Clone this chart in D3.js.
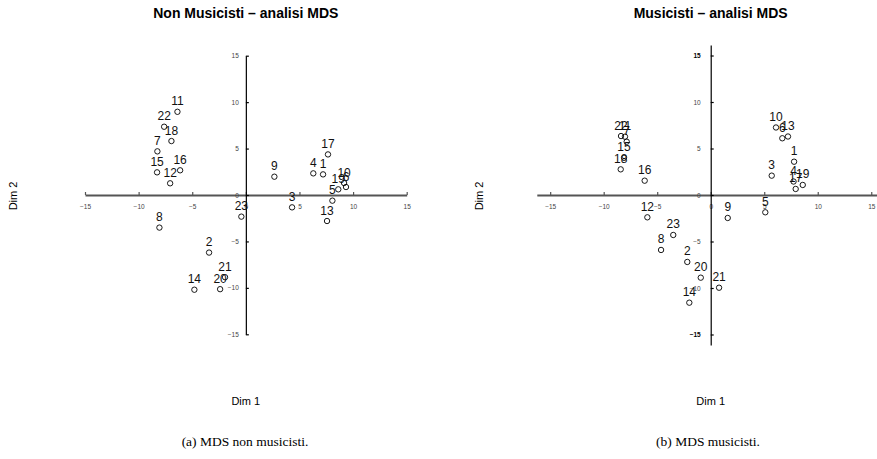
<!DOCTYPE html>
<html><head><meta charset="utf-8">
<script src="https://cdn.jsdelivr.net/npm/d3@7"></script>
<style>
body{margin:0;background:#fff;}
svg{display:block;font-family:"Liberation Sans",Arial,sans-serif;}
</style></head>
<body><svg id="c" width="877" height="459"></svg>
<script>
const ids = ["1","2","3","4","5","6","7","8","9","10","11","12","13","14","15","16","17","18","19","20","21","22","23"];
const nonMusDim1 = [7.2,-3.43,4.31,6.29,8.07,9.34,-8.25,-8.06,2.66,9.16,-6.38,-7.06,7.57,-4.8,-8.28,-6.13,7.66,-6.94,8.62,-2.4,-1.94,-7.62,-0.42];
const nonMusDim2 = [2.22,-6.2,-1.33,2.33,-0.61,0.86,4.70,-3.51,1.97,1.29,8.96,1.26,-2.8,-10.2,2.44,2.66,4.37,5.81,0.61,-10.14,-8.85,7.35,-2.33];
const musDim1 = [7.79,-2.19,5.7,7.74,5.1,6.69,-7.85,-4.64,1.59,6.1,-8.01,-5.92,7.22,-2.0,-8.1,-6.17,7.94,-8.41,8.6,-0.93,0.78,-8.38,-3.5];
const musDim2 = [3.58,-7.2,2.08,1.45,-1.86,6.1,5.73,-5.91,-2.47,7.26,6.27,-2.4,6.29,-11.58,4.0,1.54,0.65,2.76,1.08,-8.89,-9.97,6.34,-4.3];
const tickValues = [-15,-10,-5,0,5,10,15];
const titles = ["Non Musicisti \u2013 analisi MDS","Musicisti \u2013 analisi MDS"];
const captions = ["(a) MDS non musicisti.","(b) MDS musicisti."];
const xLabel = "Dim 1", yLabel = "Dim 2";

const svg = d3.select("#c");

const panels = [
  {d1: nonMusDim1, d2: nonMusDim2, xDom:[-15,15], xRange:[85,406.7], yDom:[-15,15], yRange:[334.3,55.7], cx:245.8, labPad:7, bold:false},
  {d1: musDim1, d2: musDim2, xDom:[-16.25,15.5], xRange:[536.8,876.6], yDom:[-16.13,16.13], yRange:[345,45], cx:710.7, labPad:10, bold:true}
];

const fmt = v => v < 0 ? "\u2212" + Math.abs(v) : String(v);

panels.forEach((p, i) => {
  const x = d3.scaleLinear().domain(p.xDom).range(p.xRange);
  const y = d3.scaleLinear().domain(p.yDom).range(p.yRange);
  const g = svg.append("g");

  const xa = g.append("g").attr("transform", `translate(0,${y(0)})`)
    .call(d3.axisBottom(x).tickValues(tickValues).tickSizeInner(-3).tickSizeOuter(0).tickPadding(9).tickFormat(fmt));
  xa.select(".domain").attr("stroke", "#555").attr("stroke-width", 1.8);
  xa.selectAll(".tick line").attr("stroke", "#555").attr("stroke-width", 1.2);
  xa.selectAll(".tick text").attr("font-size", 6.5).attr("fill", "#444").attr("font-family", "Liberation Sans, Arial, sans-serif");

  const ya = g.append("g").attr("transform", `translate(${x(0)},0)`)
    .call(d3.axisLeft(y).tickValues(tickValues).tickSizeInner(-3).tickSizeOuter(0).tickPadding(p.labPad).tickFormat(fmt));
  ya.select(".domain").attr("stroke", "#000").attr("stroke-width", 1.2);
  ya.selectAll(".tick line").attr("stroke", "#000").attr("stroke-width", 1.2);
  ya.selectAll(".tick text").attr("font-size", 6.5).attr("font-family", "Liberation Sans, Arial, sans-serif")
    .attr("font-weight", d => (p.bold && Math.abs(d) === 15) ? "bold" : "normal")
    .attr("fill", d => (p.bold && Math.abs(d) === 15) ? "#000" : "#444");

  const pts = ids.map((id, k) => ({id, a: p.d1[k], b: p.d2[k]}));
  g.selectAll("circle.pt").data(pts).join("circle")
    .attr("class", "pt")
    .attr("cx", d => x(d.a)).attr("cy", d => y(d.b)).attr("r", 2.7)
    .attr("fill", "none").attr("stroke", "#000").attr("stroke-width", 0.9);
  g.selectAll("text.lab").data(pts).join("text")
    .attr("class", "lab")
    .attr("x", d => x(d.a)).attr("y", d => y(d.b) - 6.5)
    .attr("text-anchor", "middle").attr("font-size", 12).attr("fill", "#111")
    .text(d => d.id);

  g.append("text").attr("x", p.cx).attr("y", 18).attr("text-anchor", "middle")
    .attr("font-size", 14).attr("font-weight", "bold").text(titles[i]);
  g.append("text").attr("x", p.cx).attr("y", 405).attr("text-anchor", "middle")
    .attr("font-size", 11).text(xLabel);
  const ylx = i === 0 ? 17 : 483;
  g.append("text").attr("transform", `translate(${ylx},196) rotate(-90)`).attr("text-anchor", "middle")
    .attr("font-size", 11).text(yLabel);
  g.append("text").attr("x", i === 0 ? 245 : 708).attr("y", 446).attr("text-anchor", "middle")
    .attr("font-family", "Liberation Serif, DejaVu Serif, serif").attr("font-size", 13.5).text(captions[i]);
});
</script></body></html>
